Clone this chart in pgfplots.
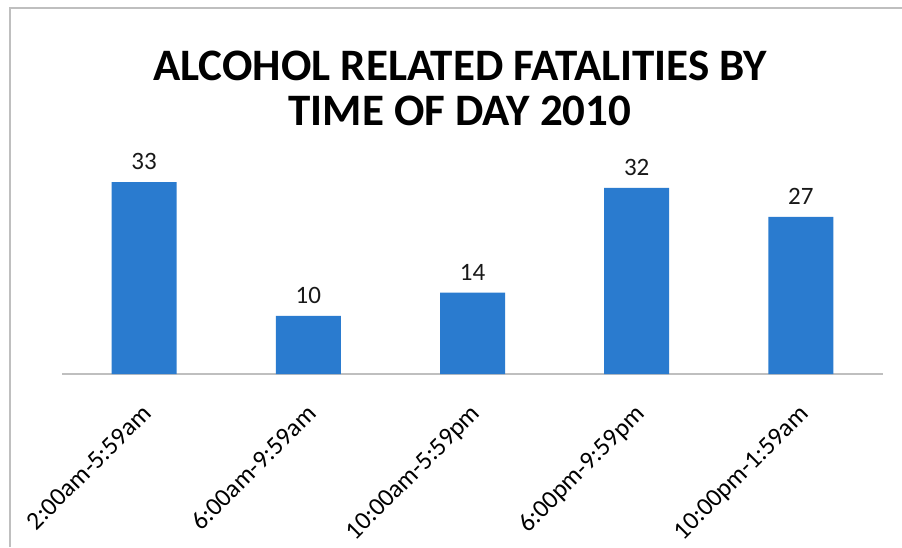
\documentclass[border=0pt]{standalone}
\usepackage{fontspec}
\setmainfont{Carlito}
\usepackage{pgfplots}
\pgfplotsset{compat=1.18}
\definecolor{barblue}{HTML}{2A7BCF}
\definecolor{framegray}{HTML}{BFBFBF}
\begin{document}
\begin{tikzpicture}[x=1pt,y=1pt]
\useasboundingbox (0,0) rectangle (902,547);
\fill[white] (0,0) rectangle (902,547);
\draw[framegray, line width=2pt] (10,0) -- (10,539) -- (902,539);
\node[font=\fontsize{45}{45}\selectfont\bfseries, align=center, text=black, anchor=center] at (460,459) {ALCOHOL RELATED FATALITIES BY\\TIME OF DAY 2010};
\begin{axis}[
  at={(62pt,173pt)}, anchor=south west,
  scale only axis,
  width=821pt, height=203.6pt,
  xmin=-0.5, xmax=4.5, ymin=0, ymax=35,
  axis y line=none,
  axis x line*=bottom,
  x axis line style={framegray, line width=1.5pt, -},
  xtick={0,1,2,3,4},
  xticklabels={2:00am-5:59am,6:00am-9:59am,10:00am-5:59pm,6:00pm-9:59pm,10:00pm-1:59am},
  major tick length=0pt,
  xticklabel style={xshift=-3pt, yshift=-29pt, rotate=45, anchor=north east, font=\fontsize{25.5}{28}\selectfont, inner sep=0pt},
  ybar, bar width=65pt,
  clip=false,
  nodes near coords,
  /pgf/number format/assume math mode=true,
  every node near coord/.append style={font=\fontsize{25}{26}\selectfont, text=black!90, yshift=9pt},
]
\addplot[fill=barblue, draw=none] coordinates {(0,33) (1,10) (2,14) (3,32) (4,27)};
\end{axis}
\end{tikzpicture}
\end{document}
